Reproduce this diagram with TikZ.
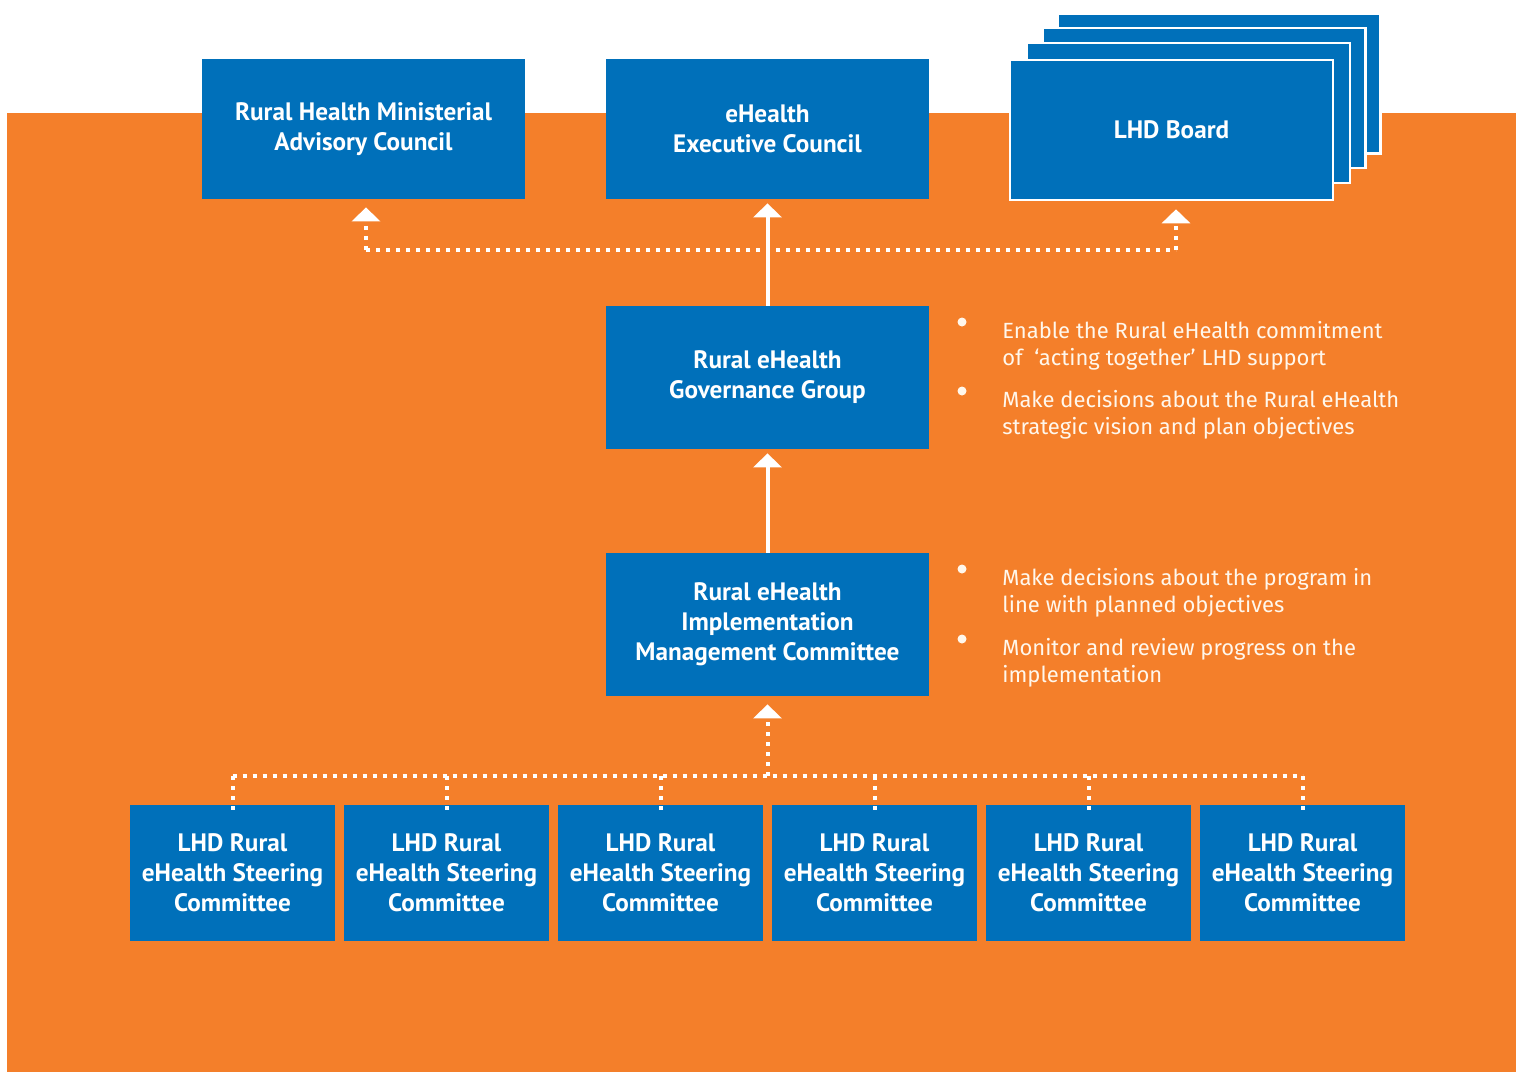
\documentclass[tikz,border=0pt]{standalone}
\usepackage{fontspec}
\setmainfont{PT Sans}
\newfontfamily\notefont{Fira Sans}
\usetikzlibrary{arrows.meta}
\definecolor{hborange}{HTML}{F47F2A}
\definecolor{hbblue}{HTML}{0070BA}
\definecolor{hbcream}{HTML}{FFF7EC}
\begin{document}
\begin{tikzpicture}[x=0.5pt,y=-0.5pt,
  body/.style={fill=hbblue, text=white, inner sep=0pt, align=center,
    font=\fontsize{12.6}{15}\selectfont\bfseries},
  topbox/.style={body, minimum width=161.5pt, minimum height=70pt},
  midbox/.style={body, minimum width=161.5pt, minimum height=71.5pt},
  sc/.style={body, minimum width=102.5pt, minimum height=68pt},
  boardbox/.style={topbox, draw=white, line width=1.3pt},
  note/.style={anchor=north west, align=left, text=hbcream, inner sep=0pt,
    font=\notefont\fontsize{11}{13.6}\selectfont},
  dot/.style={fill=hbcream, circle, inner sep=0pt, minimum size=4.5pt},
  dotline/.style={white, line width=2pt, dash pattern=on 2pt off 3pt},
  dotarrow/.style={dotline, -{Triangle[width=14pt,length=7pt]}, shorten >=4pt},
  solidarrow/.style={white, line width=2pt, -{Triangle[width=14pt,length=7pt]}, shorten >=2pt}]

\useasboundingbox (0,0) rectangle (1521,1072);
\fill[hborange] (7,113) rectangle (1516,1072);

% top row
\node[topbox] (rhmac) at (363.5,129) {Rural Health Ministerial\\Advisory Council};
\node[topbox] (exec) at (767.5,129) {eHealth\\Executive Council};
\node[boardbox] (board3) at (1219,83.5) {};
\node[boardbox] (board2) at (1204,98) {};
\node[boardbox] (board1) at (1188.5,113) {};
\node[boardbox] (board) at (1171.5,130) {LHD Board};

% middle
\node[midbox] (gov) at (767.5,377.5) {Rural eHealth\\Governance Group};
\node[midbox] (imc) at (767.5,624.5) {Rural eHealth\\Implementation\\Management Committee};

% steering committees
\foreach \i/\x in {1/232.5,2/446.5,3/660.5,4/874.5,5/1088.5,6/1302.5}
  \node[sc] (s\i) at (\x,873) {LHD Rural\\eHealth Steering\\Committee};

% notes
\node[dot] (b1) at (962,322) {};
\node[note] (n1) at (1002,321) {Enable the Rural eHealth commitment\\of\ \ ‘acting together’ LHD support};
\node[dot] (b2) at (962,391) {};
\node[note] (n2) at (1002,390) {Make decisions about the Rural eHealth\\strategic vision and plan objectives};
\node[dot] (b3) at (962,569) {};
\node[note] (n3) at (1002,568) {Make decisions about the program in\\line with planned objectives};
\node[dot] (b4) at (962,639) {};
\node[note] (n4) at (1002,638) {Monitor and review progress on the\\implementation};

% connectors
\coordinate (jt) at (767.5,250);
\coordinate (jb) at (767.5,776);
\coordinate (rt) at ([xshift=1.25pt]rhmac.south);
\coordinate (bt) at ([xshift=2.25pt]board.south);
\draw[dotline] (rt |- jt) -- (bt |- jt);
\draw[dotarrow] (rt |- jt) -- (rt);
\draw[dotarrow] (bt |- jt) -- (bt);
\draw[solidarrow] (gov.north) -- (exec.south);
\draw[solidarrow] (imc.north) -- (gov.south);
\draw[dotline] (s1.north |- jb) -- (s6.north |- jb);
\draw[dotarrow] (jb) -- (imc.south);
\foreach \i in {1,...,6}
  \draw[dotline] (s\i.north |- jb) -- ([yshift=-3pt]s\i.north);
\end{tikzpicture}
\end{document}
